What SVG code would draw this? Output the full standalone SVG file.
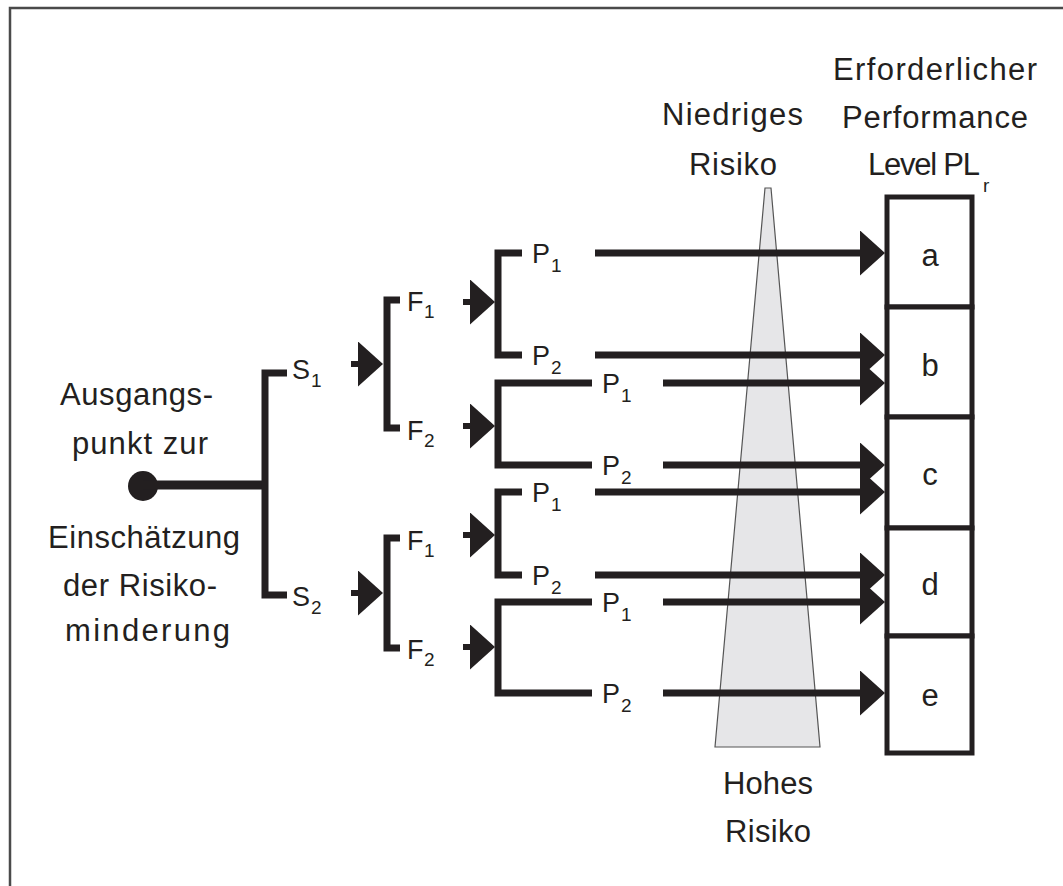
<svg xmlns="http://www.w3.org/2000/svg" width="1063" height="886" viewBox="0 0 1063 886">
<style>
.t{font-family:"Liberation Sans",Arial,sans-serif;fill:#231f20;font-size:31px}
.lb{font-family:"Liberation Sans",Arial,sans-serif;fill:#231f20;font-size:27px}
.sb{font-family:"Liberation Sans",Arial,sans-serif;fill:#231f20;font-size:19px}
.br{fill:none;stroke:#231f20;stroke-width:7;stroke-linecap:butt;stroke-linejoin:miter}
.ar{fill:none;stroke:#231f20;stroke-width:7}
.sa{fill:none;stroke:#231f20;stroke-width:6}
.box{fill:#fff;stroke:#231f20;stroke-width:5}
</style>
<defs>
<marker id="ah" viewBox="0 0 25 45" refX="13" refY="22.5" markerWidth="25" markerHeight="45" markerUnits="userSpaceOnUse" orient="auto">
<path d="M0,0 L25,22.5 L0,45 Z" fill="#231f20"/>
</marker>
</defs>
<rect width="1063" height="886" fill="#fff"/>
<g id="frame">
<path d="M10,886 V8 H1063" fill="none" stroke="#4a4a4a" stroke-width="2.5"/>
</g>
<g id="risk-scale">
<polygon points="765,188 771,188 820,747 715,747" fill="#e6e6e8" stroke="#555" stroke-width="1.2"/>
<text class="t" x="662" y="125" textLength="141" lengthAdjust="spacing">Niedriges</text>
<text class="t" x="689" y="175" textLength="88" lengthAdjust="spacing">Risiko</text>
<text class="t" x="723" y="794" textLength="90" lengthAdjust="spacing">Hohes</text>
<text class="t" x="725" y="842" textLength="86" lengthAdjust="spacing">Risiko</text>
</g>
<g id="start">
<circle cx="143" cy="486" r="15" fill="#231f20"/>
<text class="t" x="60" y="405" textLength="153" lengthAdjust="spacing">Ausgangs-</text>
<text class="t" x="72" y="454" textLength="136" lengthAdjust="spacing">punkt zur</text>
<text class="t" x="48" y="548" textLength="192" lengthAdjust="spacing">Einschätzung</text>
<text class="t" x="63" y="596" textLength="154" lengthAdjust="spacing">der Risiko-</text>
<text class="t" x="65" y="641" textLength="165" lengthAdjust="spacing">minderung</text>
</g>
<g id="connectors">
<line x1="143" y1="485" x2="268" y2="485" stroke="#231f20" stroke-width="9"/>
<path class="br" d="M287,373 H265 V595 H287"/>
<line class="sa" x1="351" y1="364" x2="371" y2="364" marker-end="url(#ah)"/>
<path class="br" d="M400,300 H387 V428 H400"/>
<line class="sa" x1="351" y1="593" x2="371" y2="593" marker-end="url(#ah)"/>
<path class="br" d="M400,538 H387 V648 H400"/>
<line class="sa" x1="463" y1="302" x2="483" y2="302" marker-end="url(#ah)"/>
<path class="br" d="M522,253 H498 V355 H522"/>
<line class="sa" x1="463" y1="426" x2="483" y2="426" marker-end="url(#ah)"/>
<path class="br" d="M592,383 H498 V465 H592"/>
<line class="sa" x1="463" y1="535" x2="483" y2="535" marker-end="url(#ah)"/>
<path class="br" d="M522,492 H498 V575 H522"/>
<line class="sa" x1="463" y1="647" x2="483" y2="647" marker-end="url(#ah)"/>
<path class="br" d="M592,602 H498 V693 H592"/>
<line class="ar" x1="595" y1="253" x2="873" y2="253" marker-end="url(#ah)"/>
<line class="ar" x1="595" y1="355" x2="873" y2="355" marker-end="url(#ah)"/>
<line class="ar" x1="663" y1="383" x2="873" y2="383" marker-end="url(#ah)"/>
<line class="ar" x1="663" y1="465" x2="873" y2="465" marker-end="url(#ah)"/>
<line class="ar" x1="595" y1="492" x2="873" y2="492" marker-end="url(#ah)"/>
<line class="ar" x1="595" y1="575" x2="873" y2="575" marker-end="url(#ah)"/>
<line class="ar" x1="663" y1="602" x2="873" y2="602" marker-end="url(#ah)"/>
<line class="ar" x1="663" y1="693" x2="873" y2="693" marker-end="url(#ah)"/>
</g>
<g id="S1"><text class="lb" x="292" y="379">S</text><text class="sb" x="311" y="387">1</text></g>
<g id="S2"><text class="lb" x="292" y="606">S</text><text class="sb" x="311" y="614">2</text></g>
<g id="S1-F1"><text class="lb" x="407" y="311">F</text><text class="sb" x="424" y="318">1</text></g>
<g id="S1-F2"><text class="lb" x="407" y="440">F</text><text class="sb" x="424" y="447">2</text></g>
<g id="S2-F1"><text class="lb" x="407" y="550">F</text><text class="sb" x="424" y="557">1</text></g>
<g id="S2-F2"><text class="lb" x="407" y="659">F</text><text class="sb" x="424" y="666">2</text></g>
<g id="S1-F1-P1"><text class="lb" x="532" y="263">P</text><text class="sb" x="551" y="272">1</text></g>
<g id="S1-F1-P2"><text class="lb" x="532" y="365">P</text><text class="sb" x="551" y="374">2</text></g>
<g id="S1-F2-P1"><text class="lb" x="602" y="393">P</text><text class="sb" x="621" y="402">1</text></g>
<g id="S1-F2-P2"><text class="lb" x="602" y="475">P</text><text class="sb" x="621" y="484">2</text></g>
<g id="S2-F1-P1"><text class="lb" x="532" y="502">P</text><text class="sb" x="551" y="511">1</text></g>
<g id="S2-F1-P2"><text class="lb" x="532" y="585">P</text><text class="sb" x="551" y="594">2</text></g>
<g id="S2-F2-P1"><text class="lb" x="602" y="612">P</text><text class="sb" x="621" y="621">1</text></g>
<g id="S2-F2-P2"><text class="lb" x="602" y="703">P</text><text class="sb" x="621" y="712">2</text></g>
<g id="pl-header">
<text class="t" x="833" y="80" textLength="204" lengthAdjust="spacing">Erforderlicher</text>
<text class="t" x="842" y="128" textLength="186" lengthAdjust="spacing">Performance</text>
<text class="t" x="868" y="175" textLength="112" lengthAdjust="spacing">Level PL</text>
<text class="sb" x="983" y="192">r</text>
</g>
<g id="PL-a"><rect class="box" x="887" y="197" width="85" height="110"/><text class="t" x="930" y="266" text-anchor="middle">a</text></g>
<g id="PL-b"><rect class="box" x="887" y="307" width="85" height="110"/><text class="t" x="930" y="376" text-anchor="middle">b</text></g>
<g id="PL-c"><rect class="box" x="887" y="417" width="85" height="111"/><text class="t" x="930" y="485" text-anchor="middle">c</text></g>
<g id="PL-d"><rect class="box" x="887" y="528" width="85" height="108"/><text class="t" x="930" y="595" text-anchor="middle">d</text></g>
<g id="PL-e"><rect class="box" x="887" y="636" width="85" height="117"/><text class="t" x="930" y="706" text-anchor="middle">e</text></g>
</svg>
